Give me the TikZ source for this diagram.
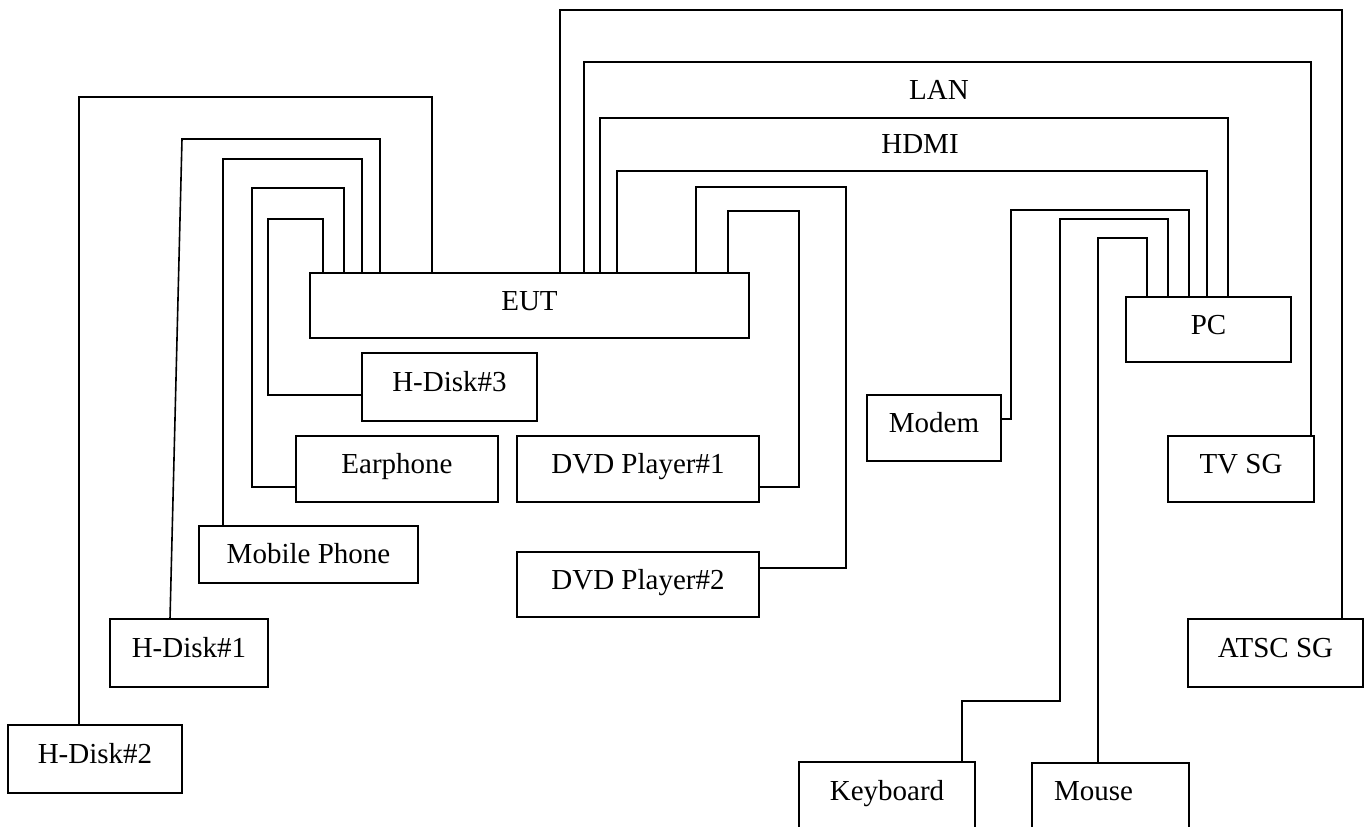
\documentclass[tikz,border=0pt]{standalone}
\usepackage{fontspec}
\setmainfont{Liberation Serif}
\usetikzlibrary{calc}
\tikzset{
  box/.style={draw, line width=1.6pt, anchor=north west, inner sep=0pt, outer sep=0pt,
    text height=19pt, text depth=10pt,
    font=\fontsize{29}{34}\selectfont},
  wire/.style={line width=1.6pt},
  lbl/.style={anchor=base, inner sep=0pt, font=\fontsize{29}{34}\selectfont}
}
\begin{document}
\begin{tikzpicture}[x=1pt,y=-1pt]
\useasboundingbox (0,0) rectangle (1366,827);
\clip (0,0) rectangle (1366,827);
% boxes
\node[box, minimum width=439pt, minimum height=65pt] (eut) at (310,273) {EUT};
\node[box, minimum width=175pt, minimum height=68pt] (hd3) at (362,353) {H-Disk\#3};
\node[box, minimum width=202pt, minimum height=66pt] (ear) at (296,436) {Earphone};
\node[box, minimum width=242pt, minimum height=66pt] (dvd1) at (517,436) {DVD Player\#1};
\node[box, minimum width=219pt, minimum height=57pt, text depth=1pt] (mob) at (199,526) {Mobile Phone};
\node[box, minimum width=158pt, minimum height=68pt] (hd1) at (110,619) {H-Disk\#1};
\node[box, minimum width=174pt, minimum height=68pt] (hd2) at (8,725) {H-Disk\#2};
\node[box, minimum width=242pt, minimum height=65pt] (dvd2) at (517,552) {DVD Player\#2};
\node[box, minimum width=134pt, minimum height=66pt] (modem) at (867,395) {Modem};
\node[box, minimum width=165pt, minimum height=65pt] (pc) at (1126,297) {PC};
\node[box, minimum width=146pt, minimum height=66pt] (tvsg) at (1168,436) {TV SG};
\node[box, minimum width=175pt, minimum height=68pt] (atsc) at (1188,619) {ATSC SG};
\node[box, minimum width=176pt, minimum height=67pt] (kbd) at (799,762) {Keyboard};
\node[box, minimum width=157pt, minimum height=66pt] (mouse) at (1032,763) {Mouse\hspace*{34pt}};
% labels
\node[lbl] (lan) at (939,99) {LAN};
\node[lbl] (hdmi) at (920,153) {HDMI};
% left side connectors
\draw[wire] ($(hd2.north west)+(71,0)$) |- (432,97) -- ($(eut.north west)+(122,0)$);
\draw[wire] ($(hd1.north west)+(60,0)$) -- (182,139) -- (380,139) -- ($(eut.north west)+(70,0)$);
\draw[wire] ($(mob.north west)+(24,0)$) |- (362,159) -- ($(eut.north west)+(52,0)$);
\draw[wire] ($(ear.north west)+(0,51)$) -- (252,487) |- (344,188) -- ($(eut.north west)+(34,0)$);
\draw[wire] ($(hd3.north west)+(0,42)$) -- (268,395) |- (323,219) -- ($(eut.north west)+(13,0)$);
% DVD connectors
\draw[wire] ($(dvd1.north east)+(0,51)$) -- (799,487) |- (728,211) -- ($(eut.north west)+(418,0)$);
\draw[wire] ($(dvd2.north east)+(0,16)$) -- (846,568) |- (696,187) -- ($(eut.north west)+(386,0)$);
% EUT to right side
\draw[wire] ($(eut.north west)+(250,0)$) |- (1342,10) -- ($(atsc.north east)+(-21,0)$);
\draw[wire] ($(eut.north west)+(274,0)$) |- (1311,62) -- ($(tvsg.north east)+(-3,0)$);
\draw[wire] ($(eut.north west)+(290,0)$) |- (1228,118) -- ($(pc.north west)+(102,0)$);
\draw[wire] ($(eut.north west)+(307,0)$) |- (1207,171) -- ($(pc.north west)+(81,0)$);
% PC peripherals
\draw[wire] ($(modem.north east)+(0,24)$) -- (1011,419) |- (1189,210) -- ($(pc.north west)+(63,0)$);
\draw[wire] ($(kbd.north west)+(163,0)$) |- (1060,701) |- (1168,219) -- ($(pc.north west)+(42,0)$);
\draw[wire] ($(mouse.north west)+(66,0)$) |- (1147,238) -- ($(pc.north west)+(21,0)$);
\end{tikzpicture}
\end{document}
